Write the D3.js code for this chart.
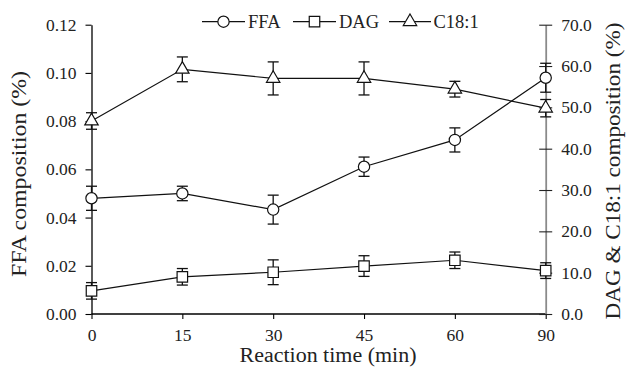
<!DOCTYPE html>
<html>
<head>
<meta charset="utf-8">
<script src="https://cdn.jsdelivr.net/npm/d3@7"></script>
<style>
  html, body { margin: 0; padding: 0; background: #fff; }
  svg text { font-family: "Liberation Serif", "Tinos", "Times New Roman", Times, "DejaVu Serif", serif !important; }
</style>
</head>
<body>
<svg id="chart" width="626" height="367"></svg>
<script>
// ---- data ----
const times = ["0", "15", "30", "45", "60", "90"];
const ffa = [0.048, 0.050, 0.0433, 0.0611, 0.0722, 0.098];
const ffaErr = [0.005, 0.003, 0.006, 0.004, 0.005, 0.006];
const dag = [5.6, 9.0, 10.1, 11.6, 13.0, 10.5];
const dagErr = [2.0, 2.0, 3.0, 2.5, 2.0, 1.9];
const c181 = [46.7, 59.2, 57.0, 57.0, 54.4, 49.8];
const c181Err = [2.0, 3.0, 4.0, 4.0, 1.9, 2.1];
const leftTicks = [0, 0.02, 0.04, 0.06, 0.08, 0.10, 0.12];
const rightTicks = [0, 10, 20, 30, 40, 50, 60, 70];

const svg = d3.select("#chart");
const L = 91.5, R = 545.7, T = 24.7, B = 314;

const x = d3.scalePoint().domain(times).range([L, R]);
const yL = d3.scaleLinear().domain([0, 0.12]).range([B, T]);
const yR = d3.scaleLinear().domain([0, 70]).range([B, T]);

// ---- axes ----
const gx = svg.append("g").attr("transform", `translate(0,${B})`)
  .call(d3.axisBottom(x).tickSizeOuter(0).tickSize(5).tickPadding(10));
gx.select(".domain").attr("d", `M${L},0H${R}`);

const gl = svg.append("g").attr("transform", `translate(${L},0)`)
  .call(d3.axisLeft(yL).tickValues(leftTicks).tickFormat(d3.format(".2f"))
    .tickSize(6).tickPadding(9).tickSizeOuter(0));

const gr = svg.append("g").attr("transform", `translate(${R},0)`)
  .call(d3.axisRight(yR).tickValues(rightTicks).tickFormat(d3.format(".1f"))
    .tickSize(6.5).tickPadding(9).tickSizeOuter(0));
gr.select(".domain").attr("stroke", "#8a8a8a").attr("stroke-width", 1.8);
gr.selectAll(".tick line").attr("x1", -6.5).attr("stroke", "#222");

[gx, gl, gr].forEach(g => {
  g.selectAll("text").attr("font-size", 17.5).attr("fill", "#222");
  g.selectAll(".tick line").attr("stroke-width", 1.1);
});
gx.select(".domain").attr("stroke-width", 1.3);
gl.select(".domain").attr("stroke-width", 1.3);

// ---- axis titles ----
svg.append("text").attr("x", 328).attr("y", 362).attr("text-anchor", "middle")
  .attr("font-size", 20.5).attr("textLength", 177).attr("lengthAdjust", "spacingAndGlyphs")
  .attr("fill", "#222").text("Reaction time (min)");
svg.append("text").attr("transform", "translate(26,174) rotate(-90)")
  .attr("text-anchor", "middle").attr("font-size", 20.5)
  .attr("textLength", 206).attr("lengthAdjust", "spacingAndGlyphs")
  .attr("fill", "#222").text("FFA composition (%)");
svg.append("text").attr("transform", "translate(620,171) rotate(-90)")
  .attr("text-anchor", "middle").attr("font-size", 20.5)
  .attr("textLength", 297).attr("lengthAdjust", "spacingAndGlyphs")
  .attr("fill", "#222").text("DAG & C18:1 composition (%)");

// ---- series ----
const series = [
  { name: "FFA", vals: ffa, err: ffaErr, y: yL, sym: d3.symbolCircle, size: 100 },
  { name: "DAG", vals: dag, err: dagErr, y: yR, sym: d3.symbolSquare, size: 110 },
  { name: "C18:1", vals: c181, err: c181Err, y: yR, sym: d3.symbolTriangle, size: 78 }
];

const line = (s) => d3.line().x((d, i) => x(times[i])).y(d => s.y(d));
series.forEach(s => {
  svg.append("path").attr("d", line(s)(s.vals))
    .attr("fill", "none").attr("stroke", "#111").attr("stroke-width", 1.2);
});

series.forEach(s => {
  const g = svg.append("g").attr("stroke", "#111").attr("stroke-width", 1.3);
  s.vals.forEach((v, i) => {
    const cx = x(times[i]);
    const y1 = s.y(v + s.err[i]), y0 = s.y(v - s.err[i]);
    g.append("line").attr("x1", cx).attr("x2", cx).attr("y1", y1).attr("y2", y0);
    g.append("line").attr("x1", cx - 5.5).attr("x2", cx + 5.5).attr("y1", y1).attr("y2", y1);
    g.append("line").attr("x1", cx - 5.5).attr("x2", cx + 5.5).attr("y1", y0).attr("y2", y0);
  });
});

series.forEach(s => {
  svg.append("g").selectAll("path").data(s.vals).join("path")
    .attr("transform", (d, i) => `translate(${x(times[i])},${s.y(d)})`)
    .attr("d", d3.symbol().type(s.sym).size(s.size))
    .attr("fill", "#fff").attr("stroke", "#111").attr("stroke-width", 1.2);
});

// ---- legend ----
const legendItems = [
  { s: series[0], x0: 202, x1: 245, tx: 248 },
  { s: series[1], x0: 293, x1: 336, tx: 339 },
  { s: series[2], x0: 389, x1: 431, tx: 433.5 }
];
const ly = 21.7;
legendItems.forEach(it => {
  svg.append("line").attr("x1", it.x0).attr("x2", it.x1).attr("y1", ly).attr("y2", ly)
    .attr("stroke", "#111").attr("stroke-width", 1.2);
  svg.append("path").attr("transform", `translate(${(it.x0 + it.x1) / 2},${ly})`)
    .attr("d", d3.symbol().type(it.s.sym).size(it.s.size))
    .attr("fill", "#fff").attr("stroke", "#111").attr("stroke-width", 1.2);
  svg.append("text").attr("x", it.tx).attr("y", ly + 6).attr("font-size", 18.5)
    .attr("fill", "#222").text(it.s.name);
});
</script>
</body>
</html>
